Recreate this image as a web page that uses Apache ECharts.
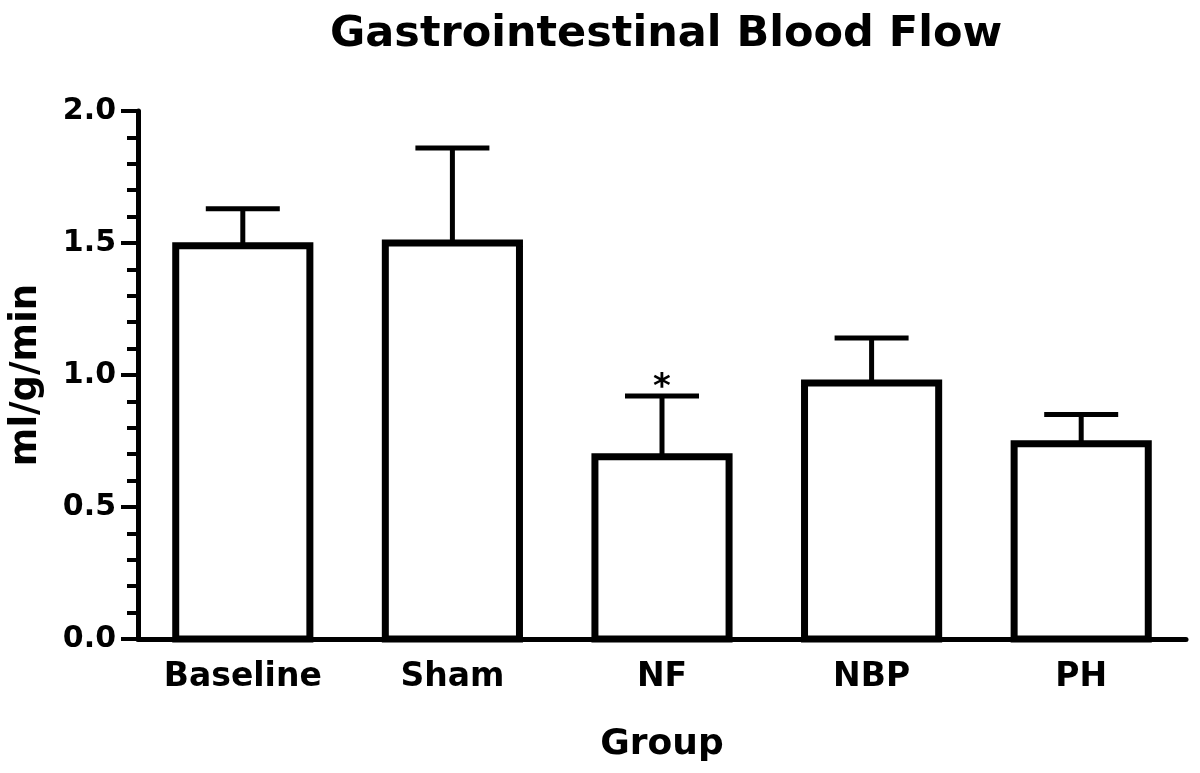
<!DOCTYPE html>
<html>
<head>
<meta charset="utf-8">
<script src="https://cdn.jsdelivr.net/npm/echarts@6/dist/echarts.min.js"></script>
<style>
html,body{margin:0;padding:0;background:#fff;}
#chart{width:1200px;height:773px;}
</style>
</head>
<body>
<div id="chart"></div>
<script>
const categories = ['Baseline', 'Sham', 'NF', 'NBP', 'PH'];
const means = [1.49, 1.50, 0.69, 0.97, 0.74];
const sems = [0.14, 0.36, 0.23, 0.17, 0.11];
const marks = ['', '', '*', '', ''];
const yTicks = [0, 0.5, 1.0, 1.5, 2.0];

const FONT = 'DejaVu Sans';
const chart = echarts.init(document.getElementById('chart'));

const barData = categories.map((c, i) => [i, means[i]]);
const errData = categories.map((c, i) => [i, means[i], means[i] + sems[i]]);

chart.setOption({
  animation: false,
  backgroundColor: '#fff',
  title: {
    text: 'Gastrointestinal Blood Flow',
    left: 325,
    top: 8,
    textStyle: { fontFamily: FONT, fontWeight: 'bold', fontSize: 43, color: '#000' }
  },
  grid: { left: 132, right: 14, top: 111, bottom: 134, containLabel: false },
  xAxis: {
    type: 'category',
    data: categories,
    name: 'Group',
    nameLocation: 'middle',
    nameGap: 88,
    nameTextStyle: { fontFamily: FONT, fontWeight: 'bold', fontSize: 36, color: '#000' },
    axisLine: { lineStyle: { color: '#000', width: 5 } },
    axisTick: { alignWithLabel: true, length: 13, lineStyle: { color: '#000', width: 4 } },
    axisLabel: { margin: 22, fontFamily: FONT, fontWeight: 'bold', fontSize: 33, color: '#000' },
    splitLine: { show: false }
  },
  yAxis: {
    type: 'value',
    min: yTicks[0],
    max: yTicks[yTicks.length - 1],
    interval: 0.5,
    name: 'ml/g/min',
    nameLocation: 'middle',
    nameGap: 93,
    nameTextStyle: { fontFamily: FONT, fontWeight: 'bold', fontSize: 37, color: '#000' },
    axisLine: { show: true, lineStyle: { color: '#000', width: 5 } },
    axisTick: { show: true, length: 17, lineStyle: { color: '#000', width: 4 } },
    minorTick: { show: true, splitNumber: 5, length: 11, lineStyle: { color: '#000', width: 4 } },
    axisLabel: {
      margin: 22, fontFamily: FONT, fontWeight: 'bold', fontSize: 30, color: '#000',
      formatter: v => v.toFixed(1)
    },
    splitLine: { show: false }
  },
  series: [
    {
      type: 'custom',
      z: 1,
      renderItem: function (params, api) {
        const x = api.value(0);
        const top = api.coord([x, api.value(1)]);
        const up = api.coord([x, api.value(2)]);
        const half = 37;
        const children = [
          { type: 'line', shape: { x1: top[0], y1: top[1], x2: up[0], y2: up[1] },
            style: { stroke: '#000', lineWidth: 5 } },
          { type: 'line', shape: { x1: up[0] - half, y1: up[1], x2: up[0] + half, y2: up[1] },
            style: { stroke: '#000', lineWidth: 5 } }
        ];
        const m = marks[params.dataIndex];
        if (m) {
          children.push({ type: 'text', x: up[0], y: up[1] - 8,
            style: { text: m, fontFamily: FONT, fontWeight: 'bold', fontSize: 34, fill: '#000',
              textAlign: 'center', textVerticalAlign: 'middle' } });
        }
        return { type: 'group', children: children };
      },
      encode: { x: 0, y: 2 },
      data: errData
    },
    {
      type: 'custom',
      z: 2,
      renderItem: function (params, api) {
        const x = api.value(0);
        const top = api.coord([x, api.value(1)]);
        const base = api.coord([x, 0]);
        const w = api.size([1, 0])[0] * 0.64;
        return {
          type: 'rect',
          shape: { x: top[0] - w / 2, y: top[1], width: w, height: base[1] - top[1] },
          style: { fill: '#fff', stroke: '#000', lineWidth: 7 }
        };
      },
      encode: { x: 0, y: 1 },
      data: barData
    }
  ]
});
</script>
</body>
</html>
